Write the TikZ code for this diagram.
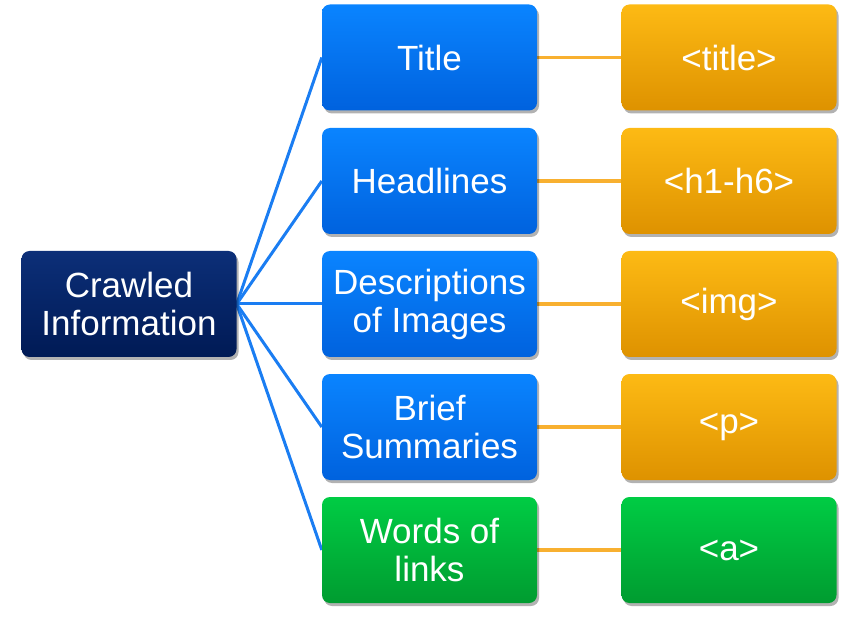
\documentclass[tikz,border=0pt]{standalone}
\usepackage{fontspec}
\setmainfont{Liberation Sans}
\usetikzlibrary{shadows,backgrounds}
\definecolor{navyT}{HTML}{0C2F78}
\definecolor{navyB}{HTML}{001A55}
\definecolor{blueT}{HTML}{0A84FF}
\definecolor{blueB}{HTML}{0062DE}
\definecolor{orgT}{HTML}{FDBA14}
\definecolor{orgB}{HTML}{DE9200}
\definecolor{grnT}{HTML}{00CC44}
\definecolor{grnB}{HTML}{009C30}
\definecolor{blueLine}{HTML}{1A7DF2}
\definecolor{orgLine}{HTML}{F8B030}
\tikzset{
  box/.style={rounded corners=8pt, minimum width=215pt, minimum height=106pt,
    inner sep=0pt, align=center, text=white,
    font=\fontsize{35}{38}\selectfont,
    drop shadow={shadow xshift=2pt, shadow yshift=-3pt, opacity=0.3, fill=black}},
  navybox/.style={box, top color=navyT, bottom color=navyB},
  bluebox/.style={box, top color=blueT, bottom color=blueB},
  orgbox/.style={box, top color=orgT, bottom color=orgB},
  grnbox/.style={box, top color=grnT, bottom color=grnB},
  blink/.style={draw=blueLine, line width=3pt},
  olink/.style={draw=orgLine, line width=3.5pt},
}
\begin{document}
\begin{tikzpicture}[x=1pt,y=-1pt]
\useasboundingbox (0,0) rectangle (867,617);
\node[navybox] (crawl) at (129,304) {Crawled\\Information};
\node[bluebox] (title) at (429.5,57.5) {Title};
\node[bluebox] (head) at (429.5,181) {Headlines};
\node[bluebox] (desc) at (429.5,304) {Descriptions\\of Images};
\node[bluebox] (brief) at (429.5,427) {Brief\\Summaries};
\node[grnbox] (words) at (429.5,550) {Words of\\links};
\node[orgbox] (ttag) at (729,57.5) {<title>};
\node[orgbox] (htag) at (729,181) {<h1-h6>};
\node[orgbox] (itag) at (729,304) {<img>};
\node[orgbox] (ptag) at (729,427) {<p>};
\node[grnbox] (atag) at (729,550) {<a>};
\begin{scope}[on background layer]
\foreach \t in {title,head,desc,brief,words}
  \draw[blink] (crawl.east) -- (\t.west);
\draw[olink] (title.east) -- (ttag.west);
\draw[olink] (head.east) -- (htag.west);
\draw[olink] (desc.east) -- (itag.west);
\draw[olink] (brief.east) -- (ptag.west);
\draw[olink] (words.east) -- (atag.west);
\end{scope}
\end{tikzpicture}
\end{document}
